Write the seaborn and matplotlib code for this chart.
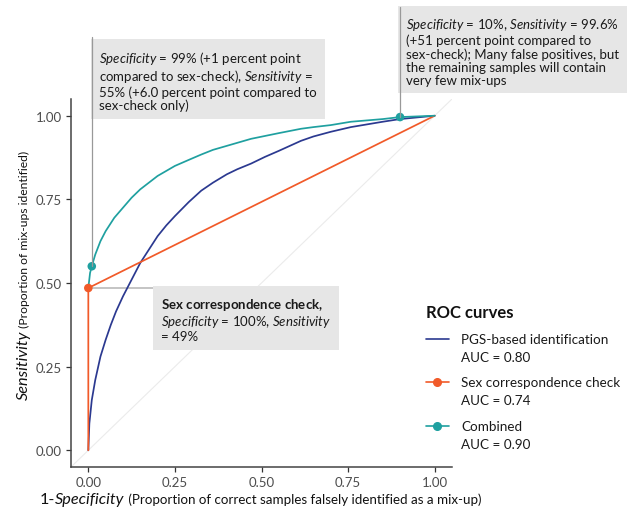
import numpy as np
import pandas as pd
import matplotlib
matplotlib.use('Agg')
import matplotlib.pyplot as plt
from matplotlib.lines import Line2D
from matplotlib.legend_handler import HandlerLine2D
from matplotlib.transforms import IdentityTransform
import seaborn as sns

# ROC curves (x = 1 - specificity, y = sensitivity)
pgs_fpr = [0.0, 0.003, 0.01, 0.02, 0.035, 0.05, 0.065, 0.08, 0.1, 0.125, 0.15, 0.175,
           0.2, 0.225, 0.25, 0.29, 0.326, 0.36, 0.4, 0.43, 0.47, 0.51, 0.55, 0.614,
           0.65, 0.7, 0.758, 0.85, 0.9, 1.0]
pgs_tpr = [0.0, 0.08, 0.15, 0.21, 0.28, 0.33, 0.375, 0.415, 0.46, 0.51, 0.56, 0.60,
           0.64, 0.672, 0.70, 0.742, 0.776, 0.80, 0.825, 0.84, 0.857, 0.877, 0.895, 0.925,
           0.938, 0.952, 0.966, 0.982, 0.99, 1.0]
sex_fpr = [0.0, 0.0, 1.0]
sex_tpr = [0.0, 0.485, 1.0]
comb_fpr = [0.0, 0.005, 0.01, 0.02, 0.035, 0.05, 0.075, 0.1, 0.125, 0.15, 0.175, 0.2,
            0.25, 0.29, 0.326, 0.36, 0.4, 0.47, 0.55, 0.614, 0.65, 0.7, 0.758, 0.85,
            0.9, 1.0]
comb_tpr = [0.485, 0.53, 0.55, 0.585, 0.625, 0.655, 0.695, 0.725, 0.755, 0.78, 0.80, 0.82,
            0.85, 0.868, 0.884, 0.898, 0.91, 0.931, 0.948, 0.961, 0.966, 0.972, 0.982,
            0.99, 0.996, 1.0]

curve_names = ['PGS-based identification', 'Sex correspondence check', 'Combined']
curve_auc = [0.80, 0.74, 0.90]
curve_colors = ['#2b3990', '#f15a29', '#1fa0a0']

# highlighted operating points
point_fpr = [0.0, 0.01, 0.9]
point_tpr = [0.485, 0.55, 0.996]
point_curve = ['Sex correspondence check', 'Combined', 'Combined']

axis_ticks = [0.0, 0.25, 0.5, 0.75, 1.0]

label_spec99 = (r"$\it{Specificity}$ = 99% (+1 percent point" + "\n"
                r"compared to sex-check), $\it{Sensitivity}$ =" + "\n"
                "55% (+6.0 percent point compared to\nsex-check only)")
label_spec10 = (r"$\it{Specificity}$ = 10%, $\it{Sensitivity}$ = 99.6%" + "\n"
                "(+51 percent point compared to\n"
                "sex-check); Many false positives, but\n"
                "the remaining samples will contain\nvery few mix-ups")
label_sex = (r"$\bf{Sex\ correspondence\ check,}$" + "\n"
             r"$\it{Specificity}$ = 100%, $\it{Sensitivity}$" + "\n= 49%")

sns.set_theme(style='white')
FONT = 'Lato'
plt.rcParams['font.family'] = [FONT, 'DejaVu Sans']
plt.rcParams['mathtext.fontset'] = 'custom'
plt.rcParams['mathtext.rm'] = FONT
plt.rcParams['mathtext.it'] = FONT + ':italic'
plt.rcParams['mathtext.bf'] = FONT + ':bold'

df = pd.concat([
    pd.DataFrame({'curve': curve_names[0], 'fpr': pgs_fpr, 'tpr': pgs_tpr}),
    pd.DataFrame({'curve': curve_names[1], 'fpr': sex_fpr, 'tpr': sex_tpr}),
    pd.DataFrame({'curve': curve_names[2], 'fpr': comb_fpr, 'tpr': comb_tpr}),
], ignore_index=True)
pts = pd.DataFrame({'curve': point_curve, 'fpr': point_fpr, 'tpr': point_tpr})
palette = dict(zip(curve_names, curve_colors))

fig = plt.figure(figsize=(6.27, 5.10), dpi=100)
ax = fig.add_axes([71 / 627, 1 - 468 / 510, 381 / 627, 368 / 510])

# reference diagonal
ax.plot([-0.05, 1.05], [-0.05, 1.05], color='#ebebeb', lw=0.8, zorder=0)

sns.lineplot(data=df, x='fpr', y='tpr', hue='curve', palette=palette, sort=False,
             estimator=None, lw=1.25, legend=False, ax=ax, zorder=2)
sns.scatterplot(data=pts, x='fpr', y='tpr', hue='curve', palette=palette, s=38,
                edgecolor='none', legend=False, ax=ax, zorder=3)

ax.set_xlim(-0.05, 1.05)
ax.set_ylim(-0.05, 1.05)
ax.set_xticks(axis_ticks)
ax.set_yticks(axis_ticks)
ax.set_xticklabels([f'{t:.2f}' for t in axis_ticks])
ax.set_yticklabels([f'{t:.2f}' for t in axis_ticks])
ax.set_xlabel('')
ax.set_ylabel('')
ax.tick_params(axis='both', length=3.5, width=0.9, color='#333333', labelsize=9.5,
               labelcolor='#4d4d4d', pad=3, bottom=True, left=True)
for s in ['top', 'right']:
    ax.spines[s].set_visible(False)
for s in ['left', 'bottom']:
    ax.spines[s].set_color('#444444')
    ax.spines[s].set_linewidth(1.1)

# annotation labels with their connector segments
box = dict(boxstyle='square,pad=0.6', fc='#e6e6e6', ec='none')
ann_kw = dict(fontsize=9.5, linespacing=1.1, va='top', ha='left', bbox=box,
              clip_on=False, zorder=4, color='#1a1a1a')
ax.text(0.031, 1.200, label_spec99, **ann_kw)
ax.text(0.916, 1.297, label_spec10, **ann_kw)
ax.text(0.209, 0.461, label_sex, **ann_kw)
ax.plot([point_fpr[1], point_fpr[1]], [point_tpr[1], 1.235], color='#999999', lw=0.9,
        zorder=5, clip_on=False)
ax.plot([point_fpr[2], point_fpr[2]], [point_tpr[2], 1.325], color='#999999', lw=0.9,
        zorder=5, clip_on=False)
ax.plot([point_fpr[0], 0.2], [point_tpr[0], point_tpr[0]], color='#c4c4c4', lw=1.4,
        zorder=1)


class UpHandler(HandlerLine2D):
    def create_artists(self, legend, orig_handle, xdescent, ydescent, width, height,
                       fontsize, trans):
        arts = super().create_artists(legend, orig_handle, xdescent, ydescent, width,
                                      height, fontsize, trans)
        for a in arts:
            a.set_ydata(np.asarray(a.get_ydata()) + 0.7 * fontsize)
        return arts


handles = [
    Line2D([], [], color=curve_colors[0], lw=1.2),
    Line2D([], [], color=curve_colors[1], lw=1.2, marker='o', markersize=5.5),
    Line2D([], [], color=curve_colors[2], lw=1.2, marker='o', markersize=5.5),
]
labels = [f'{n}\nAUC = {a:.2f}' for n, a in zip(curve_names, curve_auc)]
fig.text(426 / 627, 1 - 318 / 510, 'ROC curves', fontsize=12, fontweight='bold',
         ha='left', va='baseline', color='#111111')
leg = fig.legend(handles, labels, loc='upper left',
                 bbox_to_anchor=(426 / 627, 1 - 334 / 510), frameon=False,
                 fontsize=9.7, handlelength=1.7, handletextpad=0.9, labelspacing=1.0,
                 borderpad=0, borderaxespad=0, numpoints=1,
                 handler_map={Line2D: UpHandler(numpoints=1)})
for t in leg.get_texts():
    t.set_linespacing(1.6)
    t.set_color('#1a1a1a')


def chain_text(x, y, pieces, vertical=False):
    r = fig.canvas.get_renderer()
    for s, kw in pieces:
        t = fig.text(x, y, s, transform=IdentityTransform(), rotation=90 if vertical else 0,
                     rotation_mode='anchor', ha='left', va='baseline', color='#111111', **kw)
        bb = t.get_window_extent(r)
        if vertical:
            y += bb.height
        else:
            x += bb.width


chain_text(40, 6, [('1-', dict(fontsize=11.7)),
                   ('Specificity', dict(fontsize=11.7, style='italic')),
                   (' (Proportion of correct samples falsely identified as a mix-up)',
                    dict(fontsize=9.6))])
chain_text(28, 110, [('Sensitivity', dict(fontsize=11.7, style='italic')),
                     (' (Proportion of mix-ups identified)', dict(fontsize=8.7))],
           vertical=True)

fig.savefig('out.png', dpi=100)
